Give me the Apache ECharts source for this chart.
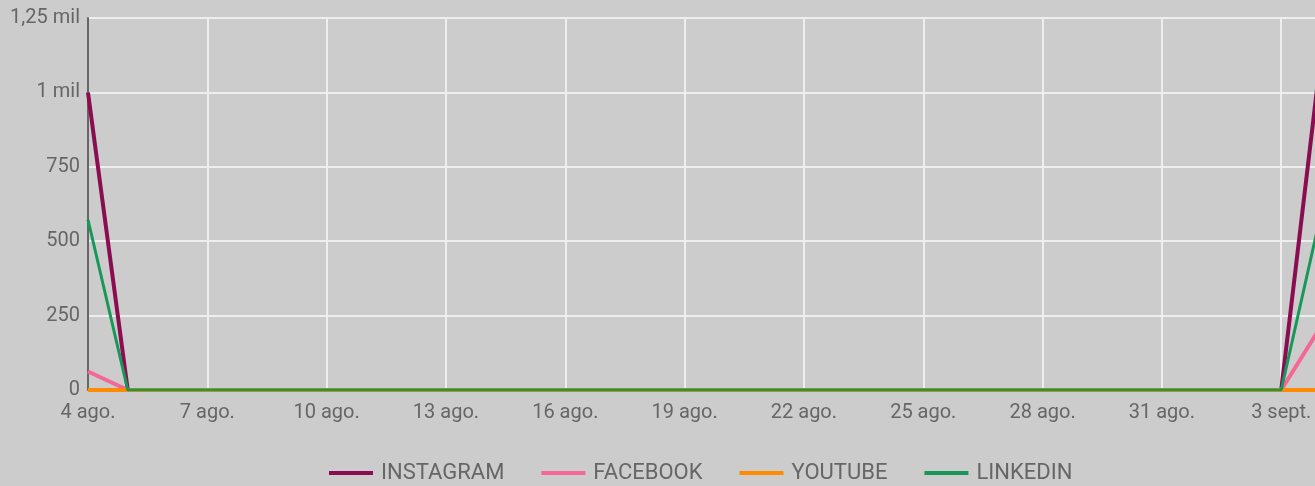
<!DOCTYPE html>
<html>
<head>
<meta charset="utf-8">
<script src="https://cdn.jsdelivr.net/npm/echarts@6/dist/echarts.min.js"></script>
<style>
    html, body { margin: 0; padding: 0; background: #cccccc; overflow: hidden; }
    #chart { width: 1321px; height: 486px; }
</style>
</head>
<body>
<div id="chart"></div>
<script>
// dias del periodo
const days = [
    '4 ago.', '5 ago.', '6 ago.', '7 ago.', '8 ago.', '9 ago.', '10 ago.', '11 ago.',
    '12 ago.', '13 ago.', '14 ago.', '15 ago.', '16 ago.', '17 ago.', '18 ago.', '19 ago.',
    '20 ago.', '21 ago.', '22 ago.', '23 ago.', '24 ago.', '25 ago.', '26 ago.', '27 ago.',
    '28 ago.', '29 ago.', '30 ago.', '31 ago.', '1 sept.', '2 sept.', '3 sept.', '4 sept.',
];
const zeros = new Array(30).fill(0);
const instagram = [1000, ...zeros, 1125];
const facebook = [62, ...zeros, 214];
const youtube = [0, ...zeros, 0];
const linkedin = [572, ...zeros, 594];
const yTicks = { 0: '0', 250: '250', 500: '500', 750: '750', 1000: '1 mil', 1250: '1,25 mil' };

const colors = ['#8a0d52', '#f56895', '#ff8c00', '#17975a'];
const font = 'Roboto, sans-serif';

const myChart = echarts.init(document.getElementById('chart'), null, { renderer: 'canvas' });

function line(name, data, width) {
    return {
        name,
        type: 'line',
        data,
        symbol: 'none',
        lineStyle: { width },
        emphasis: { disabled: true },
    };
}

const option = {
    backgroundColor: '#cccccc',
    color: colors,
    animation: false,
    grid: {
        top: 18,
        left: 88,
        right: 0,
        bottom: 96,
        containLabel: false,
    },
    legend: {
        top: 457,
        left: 324,
        icon: 'rect',
        itemWidth: 44,
        itemHeight: 4,
        itemGap: 37,
        textStyle: { color: '#666', fontSize: 22, fontFamily: font, padding: [0, 0, 0, 3] },
        data: ['INSTAGRAM', 'FACEBOOK', 'YOUTUBE', 'LINKEDIN'],
    },
    xAxis: {
        type: 'category',
        boundaryGap: false,
        data: days,
        axisLine: { show: false },
        axisTick: { show: false },
        axisLabel: { interval: 2, color: '#666', fontSize: 20, fontFamily: font, margin: 13 },
        splitLine: { show: true, interval: 2, lineStyle: { color: '#eeeeee', width: 2 } },
    },
    yAxis: {
        type: 'value',
        min: 0,
        max: 1250,
        interval: 250,
        axisLine: { show: true, lineStyle: { color: '#666', width: 2 } },
        axisTick: { show: false },
        axisLabel: {
            color: '#666',
            fontSize: 20,
            fontFamily: font,
            margin: 8,
            formatter: v => yTicks[v],
        },
        splitLine: { lineStyle: { color: '#eeeeee', width: 2 } },
    },
    series: [
        line('INSTAGRAM', instagram, 4),
        line('FACEBOOK', facebook, 4),
        line('YOUTUBE', youtube, 4),
        line('LINKEDIN', linkedin, 3),
    ],
};

myChart.setOption(option);
</script>
</body>
</html>
